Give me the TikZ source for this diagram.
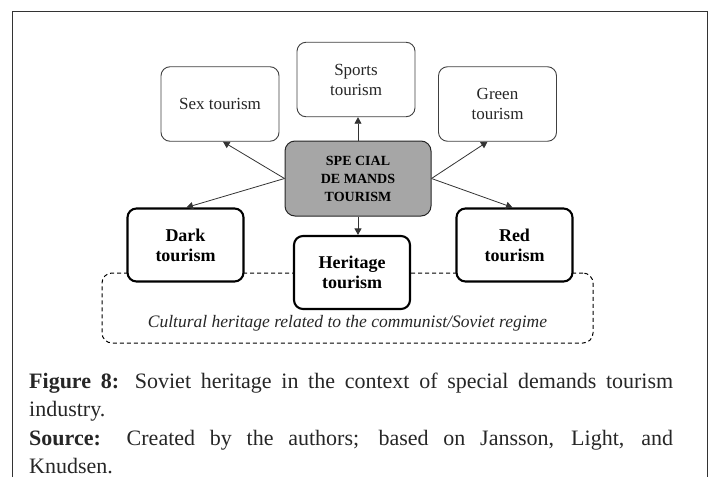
\documentclass[tikz,border=0pt]{standalone}
\usepackage{fontspec}
\setmainfont{Liberation Serif}
\usetikzlibrary{arrows.meta}
\definecolor{inkgray}{HTML}{262626}
\definecolor{hubfill}{HTML}{A6A6A6}
\begin{document}
\begin{tikzpicture}[x=1pt,y=-1pt,
  lightbox/.style={draw=black!75, line width=0.9pt, fill=white, rounded corners=9pt,
    align=center, inner sep=0pt, minimum width=118pt, minimum height=74.5pt,
    text=inkgray, font=\fontsize{17}{20}\selectfont},
  heavybox/.style={draw=black, line width=2.1pt, fill=white, rounded corners=9pt,
    align=center, inner sep=0pt, minimum width=116pt, minimum height=73pt,
    font=\bfseries\fontsize{18}{20}\selectfont},
  hubbox/.style={draw=black!85, line width=1pt, fill=hubfill, rounded corners=10pt,
    align=center, inner sep=0pt, minimum width=146pt, minimum height=75pt,
    font=\bfseries\fontsize{14}{18}\selectfont},
  regionbox/.style={draw=black, line width=1pt, dash pattern=on 4pt off 3pt,
    rounded corners=10pt, inner sep=0pt, minimum width=491pt, minimum height=70pt},
  arr/.style={draw=black!80, line width=0.8pt, -{Triangle[length=6.5pt,width=7pt]}},
  caption/.style={anchor=base west, inner sep=0pt, text=inkgray,
    font=\fontsize{22}{27}\selectfont}]
\useasboundingbox (0,0) rectangle (714,477);

% outer frame, open at the bottom
\draw[draw=black!80, line width=1.3pt] (12.5,477) -- (12.5,11.5) -- (707.5,11.5) -- (707.5,477);

% dashed region of communist/Soviet heritage
\node[regionbox] (region) at (347.5,308) {};
\node[inner sep=0pt, text=inkgray, font=\itshape\fontsize{17.5}{20}\selectfont]
  (regionlabel) at (347.5,323) {Cultural heritage related to the communist/Soviet regime};

% central hub
\node[hubbox] (hub) at (358,178.5) {SPE CIAL\\DE MANDS\\TOURISM};

% upper forms of tourism
\node[lightbox] (sex) at (220,104) {Sex tourism};
\node[lightbox] (sports) at (356,79.5) {Sports\\tourism};
\node[lightbox] (green) at (497.5,104) {Green\\tourism};

% lower forms of tourism
\node[heavybox] (dark) at (185.5,245) {Dark\\tourism};
\node[heavybox] (heritage) at (352,272.5) {Heritage\\tourism};
\node[heavybox] (red) at (514.5,245) {Red\\tourism};

% connectors from the hub
\draw[arr] (hub.west) -- ([xshift=3pt]sex.south);
\draw[arr] (hub.north) -- (hub.north |- sports.south);
\draw[arr] (hub.east) -- ([xshift=-10pt]green.south);
\draw[arr] (hub.west) -- ([xshift=1pt]dark.north);
\draw[arr] (hub.east) -- ([xshift=-2pt]red.north);
\draw[arr] (hub.south) -- (hub.south |- heritage.north);

% caption
\node[caption] (cap1) at (29,388) {\makebox[644pt][s]{\textbf{Figure 8:} Soviet heritage in the context of special demands tourism}};
\node[caption] (cap2) at (29,416) {industry.};
\node[caption] (cap3) at (29,445) {\makebox[644pt][s]{\textbf{Source:} Created by the authors; based on Jansson, Light, and}};
\node[caption] (cap4) at (29,473) {Knudsen.};
\end{tikzpicture}
\end{document}
